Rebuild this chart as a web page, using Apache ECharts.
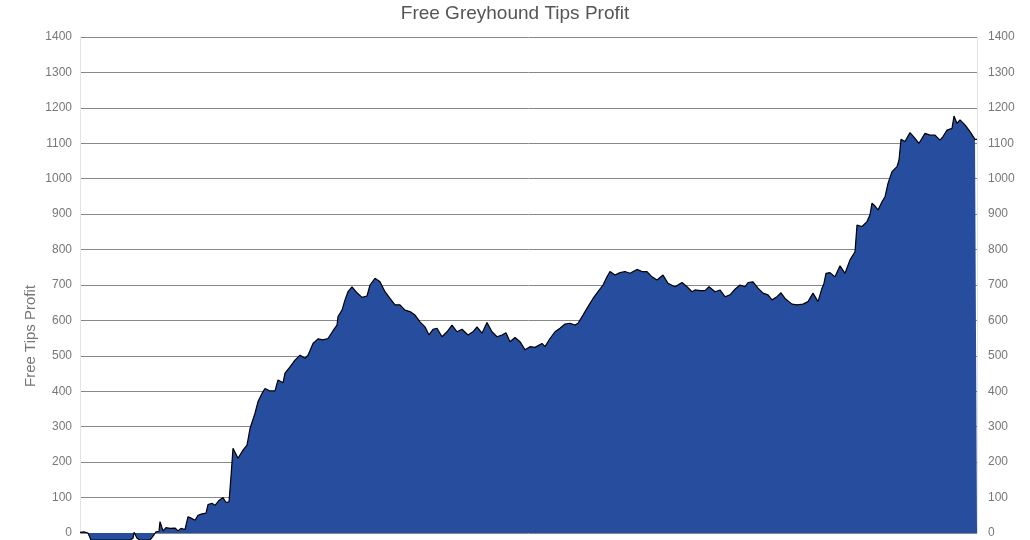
<!DOCTYPE html>
<html>
<head>
<meta charset="utf-8">
<script src="https://cdn.jsdelivr.net/npm/echarts@6/dist/echarts.min.js"></script>
<style>
    * {margin: 0; padding: 0;}
    #main {width: 1030px; height: 540px;}
</style>
</head>
<body>
<div id="main"></div>
<script type="text/javascript">
// bet number (x) and running profit (y)
var BETS = [
    0, 4, 8, 11, 20, 30, 40, 50, 53, 54, 56, 57, 60, 70, 74, 76, 79, 80, 83, 86,
    90, 95, 98, 101, 105, 108, 111, 115, 118, 122, 126, 128, 132, 135, 139, 143, 146, 149, 151, 153,
    158, 163, 167, 170, 175, 178, 182, 185, 190, 195, 198, 203, 205, 210, 215, 220, 225, 228, 233, 238,
    243, 248, 253, 257, 258, 262, 265, 268, 272, 277, 282, 287, 290, 295, 300, 305, 310, 315, 320, 325,
    330, 335, 340, 345, 349, 353, 357, 362, 367, 372, 377, 382, 388, 393, 397, 402, 407, 412, 417, 422,
    426, 430, 435, 440, 445, 450, 455, 462, 465, 470, 475, 480, 485, 490, 495, 498, 503, 508, 513, 518,
    523, 527, 530, 535, 540, 545, 550, 557, 562, 567, 572, 577, 583, 588, 595, 602, 607, 612, 615, 620,
    625, 629, 635, 640, 645, 650, 655, 660, 665, 668, 673, 678, 683, 688, 692, 697, 701, 705, 712, 717,
    723, 728, 733, 738, 742, 744, 746, 750, 755, 760, 765, 770, 775, 777, 782, 787, 790, 792, 795, 798,
    802, 805, 808, 812, 817, 819, 821, 825, 830, 835, 839, 845, 850, 855, 860, 863, 867, 872, 874, 877,
    880, 885, 890, 895, 897
];
var PROFIT = [
    2, 3, 0, -20, -20, -20, -20, -20, -15, 2, 2, -15, -20, -20, -5, 3, 5, 32, 6, 15,
    13, 14, 6, 13, 10, 46, 42, 36, 50, 54, 56, 80, 84, 78, 92, 100, 86, 88, 160, 239,
    211, 234, 248, 295, 338, 371, 394, 408, 401, 401, 432, 424, 451, 469, 488, 502, 493, 502, 535, 548,
    545, 549, 571, 587, 611, 629, 658, 681, 695, 678, 665, 669, 700, 719, 709, 681, 662, 644, 644, 629,
    625, 615, 596, 582, 559, 575, 578, 554, 568, 587, 568, 575, 559, 568, 582, 564, 594, 568, 554, 559,
    565, 540, 552, 540, 517, 526, 524, 535, 526, 549, 568, 578, 590, 592, 587, 592, 615, 639, 662, 681,
    700, 723, 738, 728, 735, 738, 733, 744, 738, 738, 723, 714, 728, 705, 695, 707, 695, 681, 686, 684,
    684, 695, 681, 686, 667, 672, 688, 700, 695, 707, 709, 691, 677, 672, 658, 667, 678, 662, 646, 644,
    646, 653, 677, 653, 691, 705, 733, 735, 723, 754, 733, 771, 794, 869, 865, 879, 898, 931, 923, 912,
    935, 949, 987, 1020, 1034, 1053, 1111, 1105, 1130, 1114, 1100, 1128, 1123, 1123, 1109, 1119, 1137, 1142, 1177, 1156,
    1166, 1152, 1133, 1111, 1111
];

var chart = echarts.init(document.getElementById('main'));

var points = BETS.map(function (b, i) {
    return [b, PROFIT[i]];
});

var labelStyle = {
    color: '#777',
    fontSize: 12,
    fontFamily: 'Liberation Sans, Arial, sans-serif',
    formatter: function (v) {
        return String(v);
    }
};

chart.setOption({
    animation: false,
    title: {
        text: 'Free Greyhound Tips Profit',
        left: 'center',
        top: -1,
        textStyle: {
            color: '#555',
            fontSize: 19,
            fontWeight: 'normal',
            fontFamily: 'Liberation Sans, Arial, sans-serif'
        }
    },
    grid: {left: 80, right: 53, top: 37, bottom: 7},
    xAxis: {
        type: 'value',
        min: 0,
        max: 897,
        show: false
    },
    yAxis: [
        {
            type: 'value',
            min: 0,
            max: 1400,
            interval: 100,
            position: 'left',
            axisLine: {show: true, lineStyle: {color: '#e4e4e4'}},
            axisTick: {show: false},
            axisLabel: Object.assign({margin: 8}, labelStyle),
            splitLine: {lineStyle: {color: '#888', width: 1}}
        },
        {
            type: 'value',
            min: 0,
            max: 1400,
            interval: 100,
            position: 'right',
            axisLine: {show: true, lineStyle: {color: '#e4e4e4'}},
            axisTick: {show: false},
            axisLabel: Object.assign({margin: 11}, labelStyle),
            splitLine: {show: false}
        }
    ],
    graphic: [{
        type: 'text',
        left: 23,
        top: 285,
        rotation: Math.PI / 2,
        style: {
            text: 'Free Tips Profit',
            fill: '#777',
            fontSize: 15,
            fontFamily: 'Liberation Sans, Arial, sans-serif'
        }
    }],
    series: [{
        type: 'line',
        data: points,
        clip: false,
        symbol: 'none',
        lineStyle: {color: '#000', width: 1.2},
        areaStyle: {color: '#264d9e', opacity: 1},
        z: 3
    }]
});
</script>
</body>
</html>
